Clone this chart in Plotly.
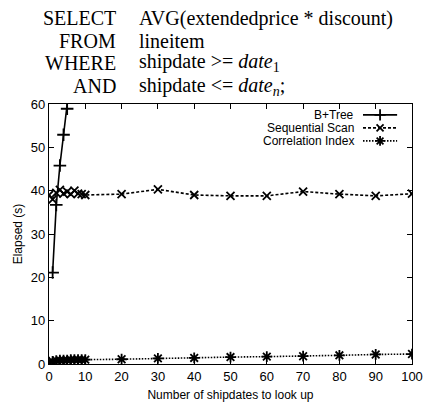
import plotly.graph_objects as go

# ---- data ----
btree_x = [1, 2, 3, 4, 5, 5.3]
btree_y = [21.1, 36.7, 45.8, 52.9, 58.9, 62]

seq_x = [0, 1, 2, 3, 4, 5, 6, 7, 8, 9, 10, 20, 30, 40, 50, 60, 70, 80, 90, 100]
seq_y = [39.0, 38.0, 39.5, 40.2, 39.3, 39.8, 39.2, 40.0, 39.3, 39.2, 39.0,
         39.2, 40.3, 39.0, 38.8, 38.8, 39.8, 39.2, 38.8, 39.3]

corr_x = [0, 1, 2, 3, 4, 5, 6, 7, 8, 9, 10, 20, 30, 40, 50, 60, 70, 80, 90, 100]
corr_y = [0.4, 0.6, 0.8, 0.9, 0.9, 0.9, 1.0, 1.0, 1.0, 1.0, 1.0,
          1.1, 1.3, 1.4, 1.6, 1.7, 1.8, 2.0, 2.2, 2.3]

series_names = ["B+Tree", "Sequential Scan", "Correlation Index"]
x_ticks = [0, 10, 20, 30, 40, 50, 60, 70, 80, 90, 100]
y_ticks = [0, 10, 20, 30, 40, 50, 60]

query_left = ["SELECT", "FROM", "WHERE", "AND"]
query_right = ["AVG(extendedprice * discount)", "lineitem",
               "shipdate &gt;= <i>date</i><sub>1</sub>",
               "shipdate &lt;= <i>date<sub>n</sub></i>;"]

# ---- styles ----
styles = [
    dict(dash="solid", symbol="cross-thin", size=9),
    dict(dash="3px,2px", symbol="x-thin", size=8),
    dict(dash="1.5px,1.5px", symbol="asterisk", size=9),
]
SANS = "Liberation Sans, Arial"
SERIF = "Liberation Serif, Times New Roman"

fig = go.Figure()
for (xs, ys), st, name in zip([(btree_x, btree_y), (seq_x, seq_y), (corr_x, corr_y)], styles, series_names):
    fig.add_trace(go.Scatter(
        x=xs, y=ys, mode="lines+markers", name=name, cliponaxis=True,
        line=dict(color="black", width=1.6, dash=st["dash"]),
        marker=dict(symbol=st["symbol"], size=st["size"], color="black",
                    line=dict(color="black", width=1.8)),
        showlegend=False,
    ))

# custom legend (samples to the right of right-aligned text)
leg_y = [0.958, 0.908, 0.858]
for st, name, ly in zip(styles, series_names, leg_y):
    fig.add_trace(go.Scatter(
        x=[0.865, 0.912, 0.959], y=[ly, ly, ly], xaxis="x2", yaxis="y2",
        mode="lines", line=dict(color="black", width=1.6, dash=st["dash"]),
        showlegend=False, hoverinfo="skip"))
    fig.add_trace(go.Scatter(
        x=[0.912], y=[ly], xaxis="x2", yaxis="y2", mode="markers",
        marker=dict(symbol=st["symbol"], size=st["size"] - 1, color="black",
                    line=dict(color="black", width=1.8)),
        showlegend=False, hoverinfo="skip"))
    fig.add_annotation(xref="paper", yref="paper", x=0.847, y=ly, text=name,
                       showarrow=False, xanchor="right", yanchor="middle",
                       font=dict(family=SANS, size=12, color="black"))

axis_common = dict(showline=True, linecolor="black", linewidth=1.2, mirror="ticks",
                   ticks="inside", ticklen=5, tickcolor="black", tickwidth=1,
                   showgrid=False, zeroline=False, automargin=False,
                   tickfont=dict(family=SANS, size=13, color="black"))

fig.update_layout(
    width=425, height=402,
    margin=dict(l=49, r=13, t=104, b=38),
    paper_bgcolor="white", plot_bgcolor="white",
    xaxis=dict(range=[0, 100], tickvals=x_ticks, ticktext=[str(v) for v in x_ticks],
               title=dict(text="Number of shipdates to look up", standoff=9,
                          font=dict(family=SANS, size=12, color="black")),
               **axis_common),
    yaxis=dict(range=[0, 60], tickvals=y_ticks, ticktext=[str(v) for v in y_ticks],
               title=dict(text="Elapsed (s)", standoff=5,
                          font=dict(family=SANS, size=12, color="black")),
               **axis_common),
    xaxis2=dict(overlaying="x", range=[0, 1], visible=False, fixedrange=True),
    yaxis2=dict(overlaying="y", range=[0, 1], visible=False, fixedrange=True),
)

# query text
row_y_px = [18, 41, 63, 86]
H = 402
plot_h = 260
for txt_l, txt_r, py in zip(query_left, query_right, row_y_px):
    yp = (H - 38 - py) / plot_h
    fig.add_annotation(xref="paper", yref="paper", x=(118 - 49) / 363, y=yp, text=txt_l,
                       showarrow=False, xanchor="right", yanchor="middle",
                       font=dict(family=SERIF, size=20, color="black"))
    fig.add_annotation(xref="paper", yref="paper", x=(137 - 49) / 363, y=yp, text=txt_r,
                       showarrow=False, xanchor="left", yanchor="middle",
                       font=dict(family=SERIF, size=20, color="black"))

fig.write_html("out.html")
